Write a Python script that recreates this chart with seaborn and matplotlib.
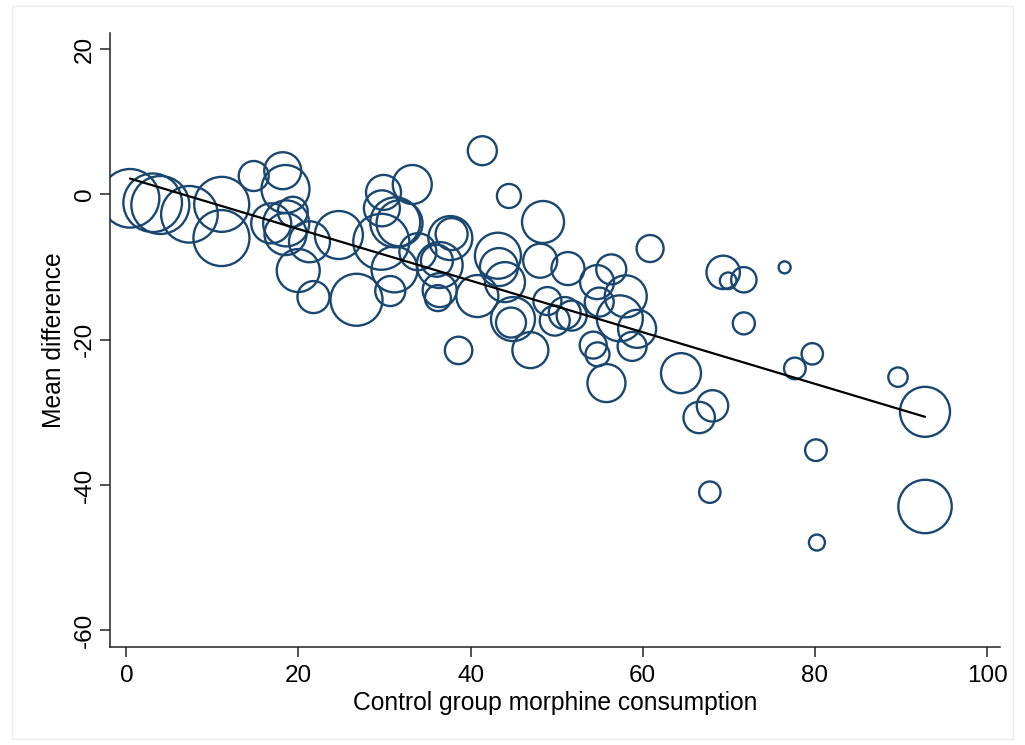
import numpy as np
import pandas as pd
import matplotlib
matplotlib.use("Agg")
import matplotlib.pyplot as plt
import seaborn as sns
from matplotlib.patches import Rectangle

# ---- data ----
control_consumption = [
    0.43, 3.06, 3.95, 7.33, 11.08, 11.05, 14.80, 18.17, 18.49, 16.83,
    18.57, 19.34, 18.49, 21.28, 19.97, 21.74, 24.69, 26.74, 29.88, 33.22,
    29.69, 31.24, 31.74, 29.62, 31.16, 33.87, 30.66, 37.64, 37.79, 36.40,
    36.08, 36.40, 36.20, 40.78, 41.36, 44.45, 38.60, 43.17, 43.29, 43.99,
    48.41, 48.08, 51.31, 44.69, 44.92, 46.94, 48.92, 49.77, 50.93, 51.74,
    54.69, 56.34, 58.02, 54.94, 57.33, 59.34, 58.76, 54.24, 54.74, 55.78,
    60.85, 64.44, 69.34, 69.92, 71.74, 76.48, 71.74, 68.10, 66.55, 67.79,
    77.67, 79.69, 80.12, 80.23, 89.65, 92.79, 92.79,
]
mean_difference = [
    -0.55, -1.16, -1.47, -2.75, -1.38, -6.02, 2.52, 3.25, 0.73, -3.99,
    -4.00, -2.40, -5.47, -6.53, -10.49, -14.14, -5.60, -14.51, 0.26, 1.35,
    -1.93, -3.86, -3.99, -6.53, -10.33, -7.90, -13.31, -6.02, -5.47, -9.73,
    -9.14, -13.18, -14.28, -14.00, 6.00, -0.23, -21.48, -8.45, -10.01, -12.08,
    -3.81, -9.14, -10.22, -17.65, -17.17, -21.44, -14.69, -17.38, -16.34, -16.69,
    -12.08, -10.33, -14.04, -14.83, -17.07, -18.51, -20.93, -20.75, -22.02, -25.98,
    -7.46, -24.61, -10.74, -11.90, -11.76, -10.05, -17.76, -29.11, -30.71, -40.99,
    -23.96, -21.95, -35.21, -47.92, -25.16, -29.93, -42.96,
]
study_weight = [
    858, 858, 841, 801, 756, 784, 225, 342, 576, 400,
    529, 225, 441, 420, 462, 256, 576, 676, 306, 380,
    324, 625, 529, 784, 529, 342, 225, 484, 256, 529,
    256, 289, 169, 441, 210, 144, 188, 529, 361, 400,
    441, 289, 272, 225, 484, 324, 196, 225, 256, 225,
    289, 225, 441, 210, 529, 361, 210, 182, 144, 361,
    182, 400, 279, 69, 161, 36, 121, 246, 246, 114,
    117, 114, 117, 64, 94, 625, 713,
]
fit_intercept = 2.32
fit_slope = -0.355

x_ticks = [0, 20, 40, 60, 80, 100]
y_ticks = [-60, -40, -20, 0, 20]
x_title = "Control group morphine consumption"
y_title = "Mean difference"

# ---- style ----
sns.set_style("ticks")
plt.rcParams["font.family"] = ["Liberation Sans", "DejaVu Sans"]
plt.rcParams["text.color"] = "black"
plt.rcParams["axes.labelcolor"] = "black"

ring_color = "#1a476f"
axis_color = "#222222"

fig = plt.figure(figsize=(10.25, 7.45), dpi=100)
ax = fig.add_axes([0.1073, 0.1315, 0.8683, 0.8242])

df = pd.DataFrame({"x": control_consumption, "y": mean_difference, "w": study_weight})
wmin, wmax = min(study_weight), max(study_weight)
k = 1.44 ** 2  # marker area (pt^2) per unit of weight (radius^2 in px)
sns.scatterplot(data=df, x="x", y="y", size="w",
                sizes=(k * wmin, k * wmax), size_norm=(wmin, wmax),
                legend=False, ax=ax, zorder=2)
coll = ax.collections[-1]
coll.set_facecolor("none")
coll.set_edgecolor(ring_color)
coll.set_linewidth(1.7)

# fitted line
xs = np.array([min(control_consumption), max(control_consumption)])
line_df = pd.DataFrame({"x": xs, "y": fit_intercept + fit_slope * xs})
sns.lineplot(data=line_df, x="x", y="y", color="black", linewidth=1.6, ax=ax, zorder=3)

ax.set_xlim(-1.9, 101.5)
ax.set_ylim(-62.3, 22.2)
ax.set_xticks(x_ticks)
ax.set_yticks(y_ticks)
ax.set_xticklabels([str(t) for t in x_ticks], fontsize=17.5)
ax.set_yticklabels([str(t) for t in y_ticks], fontsize=17.5, rotation=90, va="center")
ax.set_xlabel(x_title, fontsize=17.7)
ax.set_ylabel(y_title, fontsize=17.7)
ax.xaxis.set_label_coords(0.5, -0.072)
ax.yaxis.set_label_coords(-0.049, 0.5)

for side in ["top", "right"]:
    ax.spines[side].set_visible(False)
for side in ["left", "bottom"]:
    ax.spines[side].set_color(axis_color)
    ax.spines[side].set_linewidth(1.1)
ax.tick_params(axis="x", direction="out", length=7, width=1.1, color=axis_color,
               labelcolor="black", pad=6)
ax.tick_params(axis="y", direction="out", length=7, width=1.1, color=axis_color,
               labelcolor="black", pad=3)

fig.patches.append(Rectangle((0.012, 0.008), 0.976, 0.984, transform=fig.transFigure,
                             fill=False, edgecolor="#ececec", linewidth=1.0))

fig.savefig("out.png", dpi=100)
